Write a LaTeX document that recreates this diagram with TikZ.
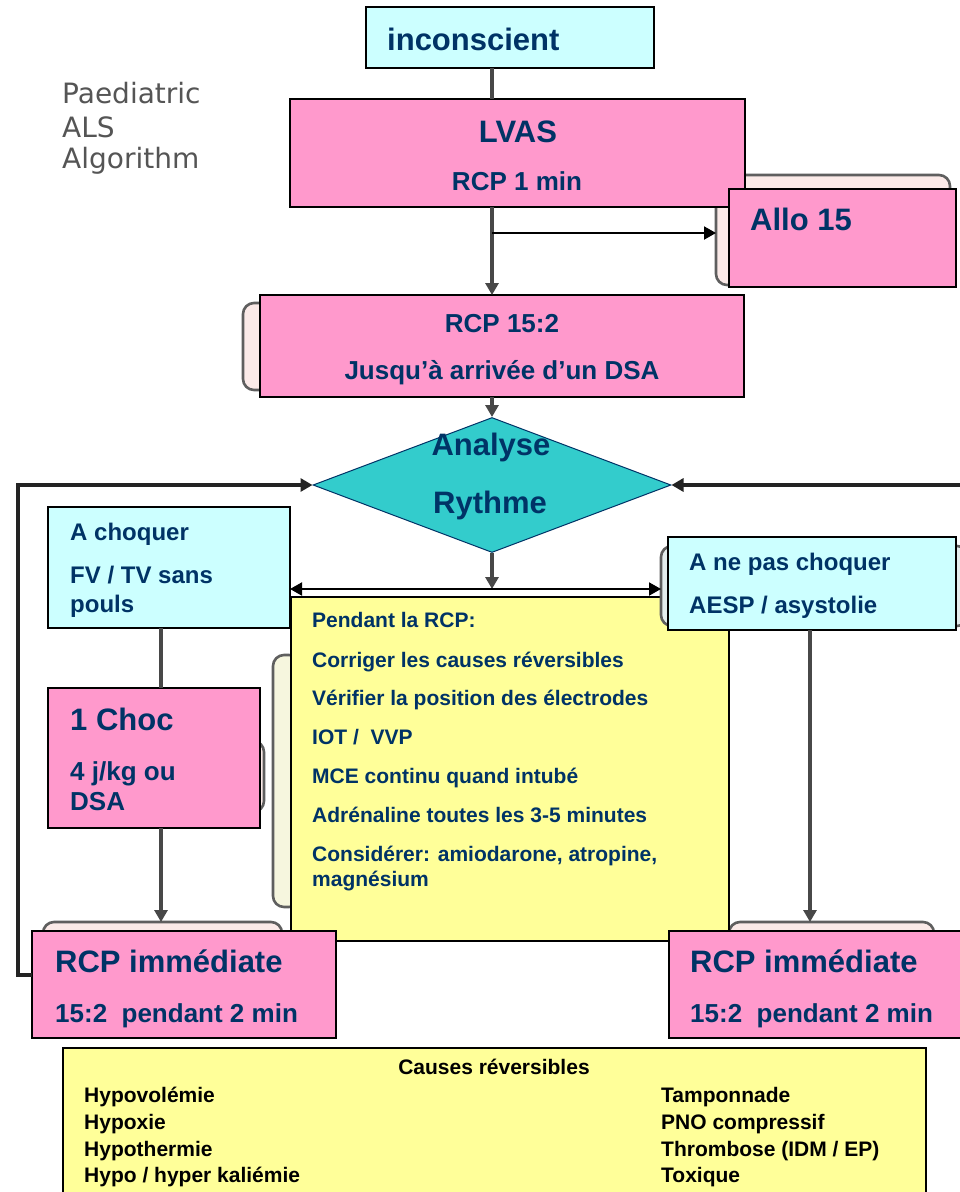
\documentclass[tikz,border=0pt]{standalone}
\usepackage{fontspec}
\setmainfont{Liberation Sans}
\newfontfamily\dejavu{DejaVu Sans}
\usetikzlibrary{shapes.geometric,arrows.meta}

\definecolor{navy}{RGB}{0,51,102}
\definecolor{pinkfill}{RGB}{255,153,204}
\definecolor{cyanfill}{RGB}{204,255,255}
\definecolor{tealfill}{RGB}{51,204,204}
\definecolor{yellowfill}{RGB}{255,255,153}
\definecolor{wire}{RGB}{72,72,72}
\definecolor{loopwire}{RGB}{35,35,35}
\definecolor{shadeline}{RGB}{95,95,95}
\definecolor{shadepink}{RGB}{251,234,232}
\definecolor{shadecyan}{RGB}{228,238,238}
\definecolor{shadeyellow}{RGB}{246,246,222}
\definecolor{titlegray}{RGB}{85,85,85}

% box with its top-left corner at (#2,#3) and bottom-right corner at (#4,#5)
\newcommand\placebox[6]{\node[#6, anchor=north west,
  minimum width={#4pt-#2pt}, minimum height={#5pt-#3pt}] (#1) at (#2,#3) {};}

\tikzset{
  box/.style={draw=black, line width=1.6pt, inner sep=0pt, outer sep=0pt},
  pinkbox/.style={box, fill=pinkfill},
  cyanbox/.style={box, fill=cyanfill},
  yellowbox/.style={box, fill=yellowfill},
  backdrop/.style={draw=shadeline, line width=2.6pt, rounded corners=11pt,
    inner sep=0pt, outer sep=0pt},
  lbl/.style={text=navy, inner sep=0pt, anchor=base west},
  clbl/.style={text=navy, inner sep=0pt, anchor=base},
  blk/.style={text=black, inner sep=0pt, anchor=base west},
  s31/.style={font=\fontsize{31}{36}\selectfont\bfseries},
  s26/.style={font=\fontsize{26}{30}\selectfont\bfseries},
  s24/.style={font=\fontsize{24}{28}\selectfont\bfseries},
  s21/.style={font=\fontsize{21}{25}\selectfont\bfseries},
  arr/.style={-{Triangle[length=12pt,width=13pt]}},
  wireline/.style={draw=wire, line width=4pt},
  thinline/.style={draw=black, line width=2pt},
  loopline/.style={draw=loopwire, line width=4.5pt},
}

\begin{document}
\begin{tikzpicture}[x=1pt,y=-1pt]
\useasboundingbox (0,0) rectangle (960,1192);
\clip (0,0) rectangle (960,1192);
\fill[white] (0,0) rectangle (960,1192);

% title
\node[inner sep=0pt, anchor=base west, text=titlegray,
  font=\dejavu\fontsize{28}{34}\selectfont] (title1) at (62,103) {Paediatric};
\node[inner sep=0pt, anchor=base west, text=titlegray,
  font=\dejavu\fontsize{28}{34}\selectfont] (title2) at (62,137) {ALS};
\node[inner sep=0pt, anchor=base west, text=titlegray,
  font=\dejavu\fontsize{28}{34}\selectfont] (title3) at (62,168) {Algorithm};

% rounded frames behind the boxes
\placebox{alloS}{716}{175}{950}{285}{backdrop, fill=shadepink}
\placebox{rcpS}{243}{303}{300}{390}{backdrop, fill=shadepink}
\placebox{pendS}{273}{655}{300}{907}{backdrop, fill=shadeyellow}
\placebox{chocS}{200}{741}{264}{812}{backdrop, fill=shadepink}
\placebox{rcpLS}{43}{922}{282}{995}{backdrop, fill=shadepink}
\placebox{rcpRS}{729}{922}{934}{995}{backdrop, fill=shadepink}

% boxes
\placebox{inc}{366}{7}{654}{68}{cyanbox}
\placebox{lvas}{290}{99}{745}{207}{pinkbox}
\placebox{allo}{729}{189}{956}{287}{pinkbox}
\placebox{rcp}{260}{295}{744}{397}{pinkbox}
\node[diamond, draw=navy, line width=1pt, fill=tealfill, inner sep=0pt,
  minimum width=358pt, minimum height=135pt] (diam) at (492,485) {};
\placebox{achoq}{48}{507}{290}{628}{cyanbox}
\placebox{pend}{291}{597}{729}{941}{yellowbox}
\placebox{anpS}{661}{546}{968}{626}{backdrop, fill=shadecyan}
\placebox{anp}{668}{537}{956}{630}{cyanbox}
\placebox{choc}{48}{688}{260}{828}{pinkbox}
\placebox{rcpL}{32}{931}{336}{1038}{pinkbox}
\placebox{rcpR}{669}{931}{980}{1038}{pinkbox}
\placebox{causes}{63}{1048}{926}{1205}{yellowbox}

% texts
\node[lbl, s31] (incT) at (387,50) {inconscient};
\node[clbl, s31] (lvasT) at (518,142) {LVAS};
\node[clbl, s26] (lvasT2) at (517,190) {RCP 1 min};
\node[lbl, s31] (alloT) at (750,230) {Allo 15};
\node[clbl, s26] (rcpT) at (502,332) {RCP 15:2};
\node[clbl, s26] (rcpT2) at (502,379) {Jusqu’à arrivée d’un DSA};
\node[clbl, s31] (diamT) at (491,455) {Analyse};
\node[clbl, s31] (diamT2) at (490,513) {Rythme};
\node[lbl, s24] (achoqT) at (70,540) {A choquer};
\node[lbl, s24] (achoqT2) at (70,583) {FV / TV sans};
\node[lbl, s24] (achoqT3) at (70,612) {pouls};
\node[lbl, s24] (anpT) at (689,570) {A ne pas choquer};
\node[lbl, s24] (anpT2) at (689,613) {AESP / asystolie};
\node[lbl, s21] (pendT1) at (312,627) {Pendant la RCP:};
\node[lbl, s21] (pendT2) at (312,667) {Corriger les causes réversibles};
\node[lbl, s21] (pendT3) at (312,705) {Vérifier la position des électrodes};
\node[lbl, s21] (pendT4) at (312,744) {IOT /\ \ VVP};
\node[lbl, s21] (pendT5) at (312,783) {MCE continu quand intubé};
\node[lbl, s21] (pendT6) at (312,822) {Adrénaline toutes les 3-5 minutes};
\node[lbl, s21] (pendT7) at (312,861) {Considérer: amiodarone, atropine,};
\node[lbl, s21] (pendT8) at (312,886) {magnésium};
\node[lbl, s31] (chocT) at (70,730) {1 Choc};
\node[lbl, s26] (chocT2) at (70,780) {4 j/kg ou};
\node[lbl, s26] (chocT3) at (70,810) {DSA};
\node[lbl, s31] (rcpLT) at (55,972) {RCP immédiate};
\node[lbl, s26] (rcpLT2) at (55,1022) {15:2\ \ pendant 2 min};
\node[lbl, s31] (rcpRT) at (690,972) {RCP immédiate};
\node[lbl, s26] (rcpRT2) at (690,1022) {15:2\ \ pendant 2 min};
\node[text=black, inner sep=0pt, anchor=base, s21] (causesT) at (494,1074) {Causes réversibles};
\node[blk, s21] (cL1) at (84,1102) {Hypovolémie};
\node[blk, s21] (cL2) at (84,1129) {Hypoxie};
\node[blk, s21] (cL3) at (84,1156) {Hypothermie};
\node[blk, s21] (cL4) at (84,1182) {Hypo / hyper kaliémie};
\node[blk, s21] (cR1) at (661,1102) {Tamponnade};
\node[blk, s21] (cR2) at (661,1129) {PNO compressif};
\node[blk, s21] (cR3) at (661,1156) {Thrombose (IDM / EP)};
\node[blk, s21] (cR4) at (661,1182) {Toxique};

% connectors
\coordinate (spine) at (492,0);
\coordinate (branch) at (492,233);
\coordinate (split) at (492,589);
\coordinate (lcol) at (161,0);
\coordinate (rcol) at (810,0);
\coordinate (lloop) at (18,0);
\coordinate (rloop) at (990,0);

\draw[wireline] (inc.south -| spine) -- (lvas.north -| spine);
\draw[wireline, arr] (lvas.south -| spine) -- (rcp.north -| spine);
\draw[thinline, arr] (branch) -- (branch -| alloS.west);
\draw[wireline, arr] (rcp.south -| spine) -- (diam.north);
\draw[wireline, arr] (diam.south) -- (split);
\draw[thinline, arr] (split) -- (split -| achoq.east);
\draw[thinline, arr] (split) -- (split -| anpS.west);
\draw[wireline] (achoq.south -| lcol) -- (choc.north -| lcol);
\draw[wireline, arr] (choc.south -| lcol) -- (rcpLS.north -| lcol);
\draw[wireline, arr] (anp.south -| rcol) -- (rcpRS.north -| rcol);
\draw[loopline, arr] ([yshift=9.5pt]rcpL.west) -- ([yshift=9.5pt]rcpL.west -| lloop)
  |- (diam.west);
\draw[loopline, arr] ([yshift=9.5pt]rcpR.east) -- ([yshift=9.5pt]rcpR.east -| rloop)
  |- (diam.east);
\end{tikzpicture}
\end{document}
